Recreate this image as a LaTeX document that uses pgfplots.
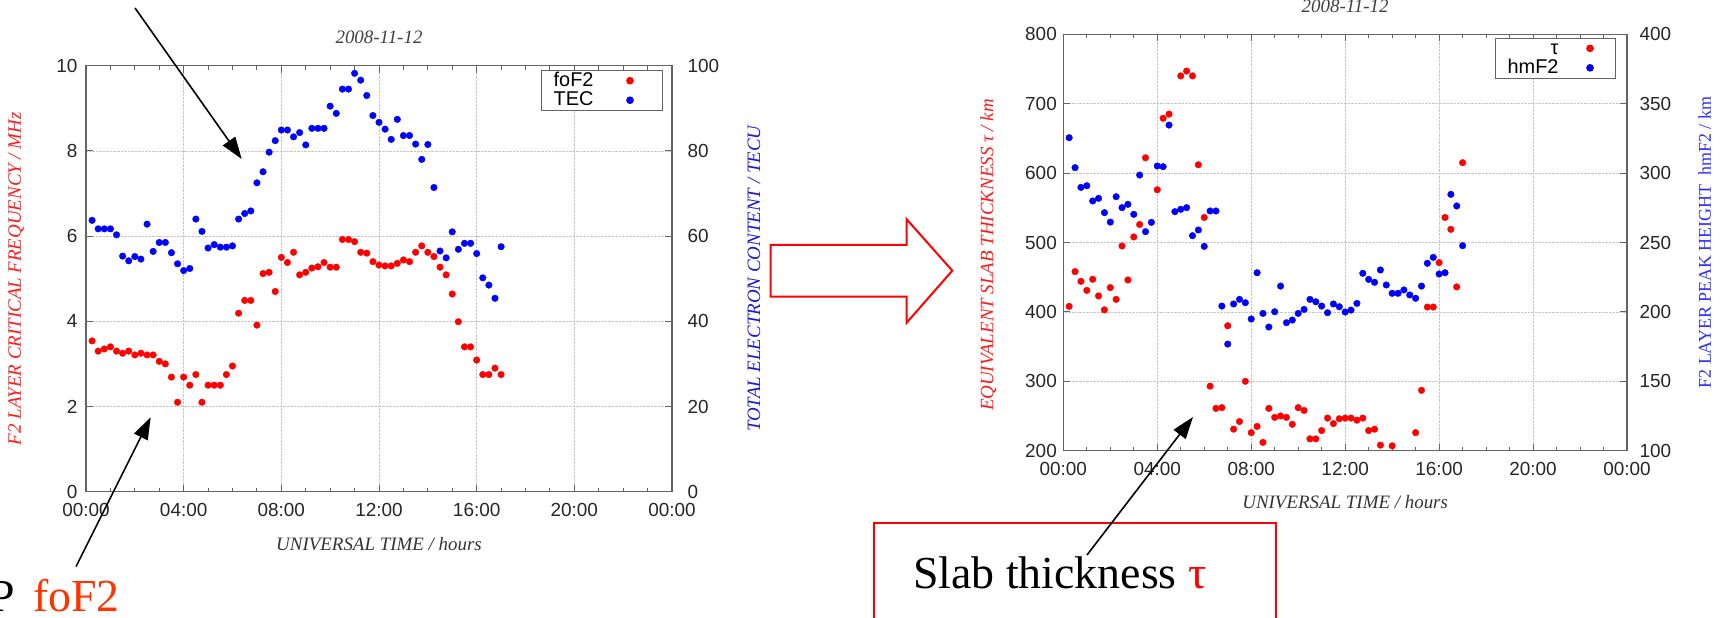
\documentclass[border=0pt]{standalone}
\usepackage{fontspec}
\setmainfont{Liberation Serif}
\setsansfont{Liberation Sans}
\usepackage{pgfplots}
\pgfplotsset{compat=1.18}
\usepackage{pgfplotstable}
\usetikzlibrary{arrows.meta}

\definecolor{fofcol}{RGB}{255,51,0}
\definecolor{labred}{RGB}{255,25,25}
\definecolor{labblue}{RGB}{25,25,215}
\definecolor{labblue2}{RGB}{45,45,255}
\definecolor{framecol}{RGB}{100,100,100}

\pgfplotstableread{
t v
0.25 3.54
0.50 3.30
0.75 3.35
1.00 3.40
1.25 3.30
1.50 3.25
1.75 3.30
2.00 3.21
2.25 3.25
2.50 3.21
2.75 3.21
3.00 3.06
3.25 3.00
3.50 2.69
3.75 2.10
4.00 2.69
4.25 2.50
4.50 2.75
4.75 2.10
5.00 2.50
5.25 2.50
5.50 2.50
5.75 2.75
6.00 2.95
6.25 4.19
6.50 4.49
6.75 4.49
7.00 3.91
7.25 5.12
7.50 5.15
7.75 4.70
8.00 5.50
8.25 5.38
8.50 5.62
8.75 5.09
9.00 5.15
9.25 5.25
9.50 5.28
9.75 5.38
10.00 5.27
10.25 5.27
10.50 5.92
10.75 5.92
11.00 5.87
11.25 5.62
11.50 5.60
11.75 5.40
12.00 5.32
12.25 5.30
12.50 5.30
12.75 5.36
13.00 5.44
13.25 5.40
13.50 5.62
13.75 5.77
14.00 5.62
14.25 5.52
14.50 5.27
14.75 5.09
15.00 4.64
15.25 3.99
15.50 3.40
15.75 3.40
16.00 3.09
16.25 2.75
16.50 2.75
16.75 2.90
17.00 2.75
}\foftable

\pgfplotstableread{
t v
0.25 63.7
0.50 61.7
0.75 61.7
1.00 61.7
1.25 60.3
1.50 55.3
1.75 54.2
2.00 55.2
2.25 54.6
2.50 62.8
2.75 56.4
3.00 58.5
3.25 58.5
3.50 56.1
3.75 53.5
4.00 51.9
4.25 52.4
4.50 64.0
4.75 61.1
5.00 57.2
5.25 58.0
5.50 57.4
5.75 57.4
6.00 57.7
6.25 64.0
6.50 65.3
6.75 65.9
7.00 72.5
7.25 75.1
7.50 79.7
7.75 82.4
8.00 84.9
8.25 84.9
8.50 83.3
8.75 84.3
9.00 81.4
9.25 85.3
9.50 85.3
9.75 85.3
10.00 90.5
10.25 88.8
10.50 94.5
10.75 94.5
11.00 98.2
11.25 96.6
11.50 93.0
11.75 88.3
12.00 86.7
12.25 85.1
12.50 82.7
12.75 87.4
13.00 83.6
13.25 83.6
13.50 81.6
13.75 78.0
14.00 81.5
14.25 71.4
14.50 56.5
14.75 54.9
15.00 61.0
15.25 56.9
15.50 58.3
15.75 58.3
16.00 55.9
16.25 50.2
16.50 48.5
16.75 45.4
17.00 57.5
}\tectable

\pgfplotstableread{
t v
0.25 408
0.50 458
0.75 444
1.00 431
1.25 447
1.50 423
1.75 403
2.00 435
2.25 418
2.50 495
2.75 446
3.00 508
3.25 526
3.50 622
4.00 576
4.25 679
4.50 685
5.00 740
5.25 747
5.50 740
5.75 612
6.00 536
6.25 293
6.50 261
6.75 262
7.00 380
7.25 231
7.50 242
7.75 300
8.00 226
8.25 235
8.50 212
8.75 261
9.00 248
9.25 250
9.50 248
9.75 238
10.00 262
10.25 258
10.50 217
10.75 217
11.00 229
11.25 247
11.50 239
11.75 246
12.00 247
12.25 247
12.50 244
12.75 247
13.00 229
13.25 231
13.50 208
14.00 207
15.00 226
15.25 287
15.50 407
15.75 407
16.00 471
16.25 536
16.50 519
16.75 436
17.00 615
}\tautable

\pgfplotstableread{
t v
0.25 325.5
0.50 303.9
0.75 289.7
1.00 290.9
1.25 279.9
1.50 281.8
1.75 271.5
2.00 264.7
2.25 283.0
2.50 275.1
2.75 277.5
3.00 270.3
3.25 298.6
3.50 257.8
3.75 264.5
4.00 305.1
4.25 304.6
4.50 334.6
4.75 272.2
5.00 273.9
5.25 275.1
5.50 254.9
5.75 259.0
6.00 247.2
6.25 272.7
6.50 272.7
6.75 204.2
7.00 176.8
7.25 205.7
7.50 209.0
7.75 206.6
8.00 194.9
8.25 228.2
8.50 198.9
8.75 189.1
9.00 200.1
9.25 218.6
9.50 192.2
9.75 194.1
10.00 198.9
10.25 201.8
10.50 209.0
10.75 207.3
11.00 204.2
11.25 199.4
11.50 205.7
11.75 203.7
12.00 199.9
12.25 201.3
12.50 206.1
12.75 227.8
13.00 223.4
13.25 221.3
13.50 230.2
13.75 219.4
14.00 213.4
14.25 213.4
14.50 215.8
14.75 212.2
15.00 209.8
15.25 218.6
15.50 235.0
15.75 239.3
16.00 227.3
16.25 228.2
16.50 284.7
16.75 276.3
17.00 247.7
}\hmtable

\pgfplotsset{
  common/.style={
    scale only axis,
    xmin=0, xmax=24,
    xtick={0,4,8,12,16,20,24},
    xticklabels={00:00,04:00,08:00,12:00,16:00,20:00,00:00},
    minor x tick num=3,
    tick align=inside,
    major tick length=7bp, minor tick length=4bp,
    every tick/.style={framecol, line width=0.9bp},
    axis line style={framecol, line width=1.5bp},
    ticklabel style={font=\sffamily\fontsize{19}{19}\selectfont, text=black!85},
    xticklabel style={yshift=-8bp},
    /pgf/number format/assume math mode=true,
    label style={font=\itshape\fontsize{19}{19}\selectfont},
    title style={font=\itshape\fontsize{19}{19}\selectfont, text=black!75, anchor=center, yshift=-6pt},
  },
  redpts/.style={only marks, mark=*, mark size=3.3, color=red, mark options={draw=red, fill=red}},
  bluepts/.style={only marks, mark=*, mark size=3.3, color=blue, mark options={draw=blue, fill=blue}},
  mylegend/.style={
    legend plot pos=right,
    legend cell align=right,
    legend style={draw=framecol, line width=1bp, fill=white,
      font=\sffamily\fontsize{20}{20}\selectfont,
      inner xsep=6bp, inner ysep=2bp, row sep=3bp, column sep=0bp,
      nodes={font=\sffamily\fontsize{20}{20}\selectfont, inner ysep=0.5bp, inner xsep=6bp,
             text height=13.5bp, text depth=2bp}},
  },
}

\begin{document}
\begin{tikzpicture}[x=1bp,y=1bp]
\useasboundingbox (0,0) rectangle (1721,618);

% ---------- left chart ----------
\begin{axis}[common, mylegend,
  legend image code/.code={\path (0bp,0bp) (56bp,0bp); \draw[#1] plot coordinates {(30bp,0bp)};},
  at={(86bp,126.3bp)}, anchor=south west, width=586bp, height=426bp,
  ymin=0, ymax=10, ytick={0,2,4,6,8,10},
  xtick pos=both, ytick pos=left,
  yticklabel style={xshift=-5bp},
  grid=major, major grid style={densely dotted, gray!45, line width=0.6bp},
  title={2008-11-12}, title style={at={(0.5,1.0657)}},
  xlabel={UNIVERSAL TIME / hours}, xlabel style={at={(0.5,-0.122)}, anchor=center, text=black!80},
  ylabel={F2 LAYER CRITICAL FREQUENCY / MHz}, ylabel style={at={(-0.119,0.5)}, anchor=center, text=labred},
  legend style={at={(1,1)}, anchor=north east, xshift=-9bp, yshift=-4.3bp},
]
\addplot[redpts] table[x=t,y=v] {\foftable};
\addlegendentry{foF2}
\addlegendimage{bluepts}
\addlegendentry{TEC}
\end{axis}
\begin{axis}[common,
  at={(86bp,126.3bp)}, anchor=south west, width=586bp, height=426bp,
  axis x line=none, axis y line*=right,
  ymin=0, ymax=100, ytick={0,20,40,60,80,100},
  yticklabel style={xshift=12bp},
  ylabel={TOTAL ELECTRON CONTENT / TECU}, ylabel style={at={(1.14,0.5)}, anchor=center, text=labblue},
]
\addplot[bluepts] table[x=t,y=v] {\tectable};
\end{axis}

% ---------- right chart ----------
\begin{axis}[common, mylegend,
  legend image code/.code={\path (0bp,0bp) (44bp,0bp); \draw[#1] plot coordinates {(25bp,0bp)};},
  at={(1063.3bp,167.3bp)}, anchor=south west, width=563.7bp, height=416.4bp,
  ymin=200, ymax=800, ytick={200,300,...,800},
  xtick pos=both, ytick pos=left,
  yticklabel style={xshift=-3bp},
  grid=major, major grid style={densely dotted, gray!45, line width=0.6bp},
  title={2008-11-12}, title style={at={(0.5,1.067)}},
  xlabel={UNIVERSAL TIME / hours}, xlabel style={at={(0.5,-0.1225)}, anchor=center, text=black!80},
  ylabel={EQUIVALENT SLAB THICKNESS τ / km}, ylabel style={at={(-0.133,0.47)}, anchor=center, text=labred},
  legend style={at={(1,1)}, anchor=north east, xshift=-11bp, yshift=-3.3bp},
]
\addplot[redpts] table[x=t,y=v] {\tautable};
\addlegendentry{τ}
\addlegendimage{bluepts}
\addlegendentry{hmF2}
\end{axis}
\begin{axis}[common,
  at={(1063.3bp,167.3bp)}, anchor=south west, width=563.7bp, height=416.4bp,
  axis x line=none, axis y line*=right,
  ymin=100, ymax=400, ytick={100,150,...,400},
  yticklabel style={xshift=9bp},
  ylabel={F2 LAYER PEAK HEIGHT\ \ hmF2 / km}, ylabel style={at={(1.138,0.5)}, anchor=center, text=labblue2, font=\upshape\fontsize{18}{18}\selectfont},
]
\addplot[bluepts] table[x=t,y=v] {\hmtable};
\end{axis}

% ---------- annotations ----------
\draw[red, line width=2bp, fill=white]
  (770.7,373) -- (906.7,373) -- (906.7,398.7) -- (952.3,347.3)
  -- (906.7,295.3) -- (906.7,321.3) -- (770.7,321.3) -- cycle;

\draw[red, line width=1.8bp] (874,-10) -- (874,95.3) -- (1276,95.3) -- (1276,-10);
\node[anchor=base west, inner sep=0, font=\fontsize{46}{46}\selectfont] at (913,29.5)
  {Slab thickness \textcolor{red}{τ}};

\node[anchor=base east, inner sep=0, font=\fontsize{46}{46}\selectfont] at (15,6.3) {P};
\node[anchor=base west, inner sep=0, font=\fontsize{46}{46}\selectfont, text=fofcol] at (33,6.3) {foF2};

\draw[line width=1.6bp, -{Triangle[length=22bp,width=15bp]}] (135,610) -- (241.7,459);
\draw[line width=1.6bp, -{Triangle[length=22bp,width=15bp]}] (76,51.3) -- (150.7,200.7);
\draw[line width=1.6bp, -{Triangle[length=22bp,width=15bp]}] (1087,63) -- (1193,201);
\end{tikzpicture}
\end{document}
